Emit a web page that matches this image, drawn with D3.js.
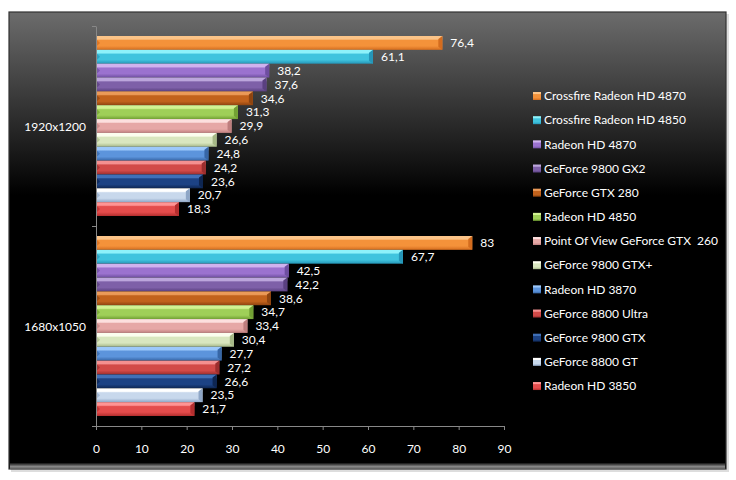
<!DOCTYPE html>
<html>
<head>
<meta charset="utf-8">
<script src="https://cdn.jsdelivr.net/npm/d3@7"></script>
<style>
  body { margin: 0; background: #fff; }
  svg text { font-family: Lato, "Open Sans", sans-serif; }
</style>
</head>
<body>
<div class="plot-container"></div>
<script>
// data
const resolutions = ["1920x1200", "1680x1050"];
const cards = [
  "Crossfire Radeon HD 4870", "Crossfire Radeon HD 4850", "Radeon HD 4870",
  "GeForce 9800 GX2", "GeForce GTX 280", "Radeon HD 4850",
  "Point Of View GeForce GTX  260", "GeForce 9800 GTX+", "Radeon HD 3870",
  "GeForce 8800 Ultra", "GeForce 9800 GTX", "GeForce 8800 GT", "Radeon HD 3850"
];
const values1920 = [76.4, 61.1, 38.2, 37.6, 34.6, 31.3, 29.9, 26.6, 24.8, 24.2, 23.6, 20.7, 18.3];
const values1680 = [83, 67.7, 42.5, 42.2, 38.6, 34.7, 33.4, 30.4, 27.7, 27.2, 26.6, 23.5, 21.7];
const xTicks = [0, 10, 20, 30, 40, 50, 60, 70, 80, 90];
// light top, body, dark bottom
const cardColors = [
  ["#fcc488", "#f4923a", "#d46c1e"],
  ["#8ef2fa", "#40c4de", "#2596b8"],
  ["#cfb2ee", "#9b72cf", "#6e4ea0"],
  ["#bca6dc", "#7e60a8", "#5a4080"],
  ["#eb9a58", "#c2621c", "#8e4410"],
  ["#d2f292", "#9fcf58", "#72a034"],
  ["#fde0de", "#e6a8a6", "#be7e7e"],
  ["#fbfdee", "#d9e6bf", "#a6b886"],
  ["#9cc8fa", "#5c94dc", "#3766a6"],
  ["#f49090", "#d24a48", "#9c2e2e"],
  ["#4070b8", "#1c4284", "#0e2652"],
  ["#ffffff", "#c8d8ec", "#8ea6c6"],
  ["#ff9494", "#e44c4c", "#b42e2e"]
];

const series = resolutions.map((r, i) => ({
  res: r,
  vals: (i === 0 ? values1920 : values1680).map((v, j) => ({ card: cards[j], value: v, idx: j }))
}));

const fontSize = 12;

const svg = d3.select("div.plot-container").append("svg")
  .attr("width", 736).attr("height", 480);

const defs = svg.append("defs");

// panel gradient
const bg = defs.append("linearGradient").attr("id", "bg")
  .attr("x1", 0).attr("y1", 0).attr("x2", 0).attr("y2", 1);
bg.append("stop").attr("offset", "0").attr("stop-color", "#6c6c6c");
bg.append("stop").attr("offset", "0.4").attr("stop-color", "#000");
bg.append("stop").attr("offset", "1").attr("stop-color", "#000");

const bevel = defs.append("linearGradient").attr("id", "bevel")
  .attr("x1", 0).attr("y1", 0).attr("x2", 0).attr("y2", 1);
bevel.append("stop").attr("offset", "0").attr("stop-color", "#111");
bevel.append("stop").attr("offset", "0.6").attr("stop-color", "#8a8a8a");
bevel.append("stop").attr("offset", "1").attr("stop-color", "#5a5a5a");

cardColors.forEach((c, i) => {
  const g = defs.append("linearGradient").attr("id", "bar" + i)
    .attr("x1", 0).attr("y1", 0).attr("x2", 0).attr("y2", 1);
  g.append("stop").attr("offset", "0").attr("stop-color", c[0]);
  g.append("stop").attr("offset", "0.22").attr("stop-color", c[0]);
  g.append("stop").attr("offset", "0.32").attr("stop-color", c[1]);
  g.append("stop").attr("offset", "0.72").attr("stop-color", c[1]);
  g.append("stop").attr("offset", "1").attr("stop-color", c[2]);
});

// *************************************
// PANEL
// *************************************
svg.append("rect").attr("x", 11).attr("y", 14).attr("width", 718).attr("height", 458)
  .attr("fill", "#bbb").attr("opacity", 0.5);
svg.append("rect").attr("x", 9).attr("y", 12).attr("width", 717).attr("height", 457)
  .attr("fill", "url(#bg)").attr("stroke", "#333").attr("stroke-width", 1.2);
svg.append("rect").attr("x", 10).attr("y", 463).attr("width", 715).attr("height", 6)
  .attr("fill", "url(#bevel)");

// *************************************
// SCALES
// *************************************
const x = d3.scaleLinear().domain([0, 90]).range([96, 504]);
const y0 = d3.scaleBand().domain(resolutions).range([26, 426])
  .paddingInner(0.1).paddingOuter(0.05);
const y1 = d3.scaleBand().domain(cards).range([0, y0.bandwidth()]);

// *************************************
// BARS
// *************************************
const groups = svg.selectAll("g.res").data(series).join("g")
  .attr("class", "res")
  .attr("transform", d => `translate(0, ${y0(d.res)})`);

const bars = groups.selectAll("g.bar").data(d => d.vals).join("g").attr("class", "bar");

bars.append("rect")
  .attr("x", x(0))
  .attr("y", d => y1(d.card))
  .attr("width", d => x(d.value) - x(0))
  .attr("height", y1.bandwidth())
  .attr("fill", d => `url(#bar${d.idx})`);

// darker right-hand bevel
bars.append("path")
  .attr("d", d => {
    const xe = x(d.value), yt = y1(d.card), h = y1.bandwidth();
    return `M${xe - 4},${yt + 3} L${xe},${yt} L${xe},${yt + h} L${xe - 4},${yt + h - 3} Z`;
  })
  .attr("fill", d => cardColors[d.idx][2]);

// small left bevel
bars.append("path")
  .attr("d", d => {
    const xs = x(0), yt = y1(d.card), h = y1.bandwidth();
    return `M${xs},${yt + 3} L${xs + 4},${yt + h / 2} L${xs},${yt + h - 3} Z`;
  })
  .attr("fill", d => cardColors[d.idx][2])
  .attr("opacity", 0.7);

bars.append("text")
  .attr("x", d => x(d.value) + 8)
  .attr("y", d => y1(d.card) + y1.bandwidth() / 2)
  .attr("dy", "0.35em")
  .attr("fill", "#fff")
  .attr("font-size", fontSize)
  .text(d => String(d.value).replace(".", ","));

// *************************************
// AXES
// *************************************
const xAxis = svg.append("g")
  .attr("transform", `translate(0, ${426})`)
  .call(d3.axisBottom(x).tickValues(xTicks).tickSizeInner(4).tickSizeOuter(0).tickPadding(14));
xAxis.selectAll("line, path").attr("stroke", "#888");
xAxis.selectAll("text").attr("fill", "#fff").attr("font-size", fontSize)
  .style("font-family", "Lato, 'Open Sans', sans-serif");

const yEdges = d3.scaleLinear().domain([0, resolutions.length]).range([26, 426]);
const yAxis = svg.append("g")
  .attr("transform", `translate(${x(0)}, 0)`)
  .call(d3.axisLeft(yEdges).ticks(resolutions.length).tickSizeInner(4).tickSizeOuter(0).tickFormat(""));
yAxis.selectAll("line, path").attr("stroke", "#888");

svg.selectAll("text.cat").data(resolutions).join("text")
  .attr("class", "cat")
  .attr("x", 86)
  .attr("y", d => y0(d) + y0.bandwidth() / 2 + 1)
  .attr("dy", "0.35em")
  .attr("text-anchor", "end")
  .attr("fill", "#fff")
  .attr("font-size", fontSize)
  .text(d => d);

// *************************************
// LEGEND
// *************************************
const legend = svg.selectAll("g.leg").data(cards).join("g")
  .attr("class", "leg")
  .attr("transform", (d, i) => `translate(533, ${96 + i * 24.17})`);
legend.append("rect")
  .attr("x", 0).attr("y", -4).attr("width", 8).attr("height", 8)
  .attr("fill", (d, i) => `url(#bar${i})`);
legend.append("text")
  .attr("x", 11).attr("dy", "0.35em")
  .attr("fill", "#fff")
  .attr("font-size", fontSize)
  .style("white-space", "pre")
  .text(d => d);
</script>
</body>
</html>
